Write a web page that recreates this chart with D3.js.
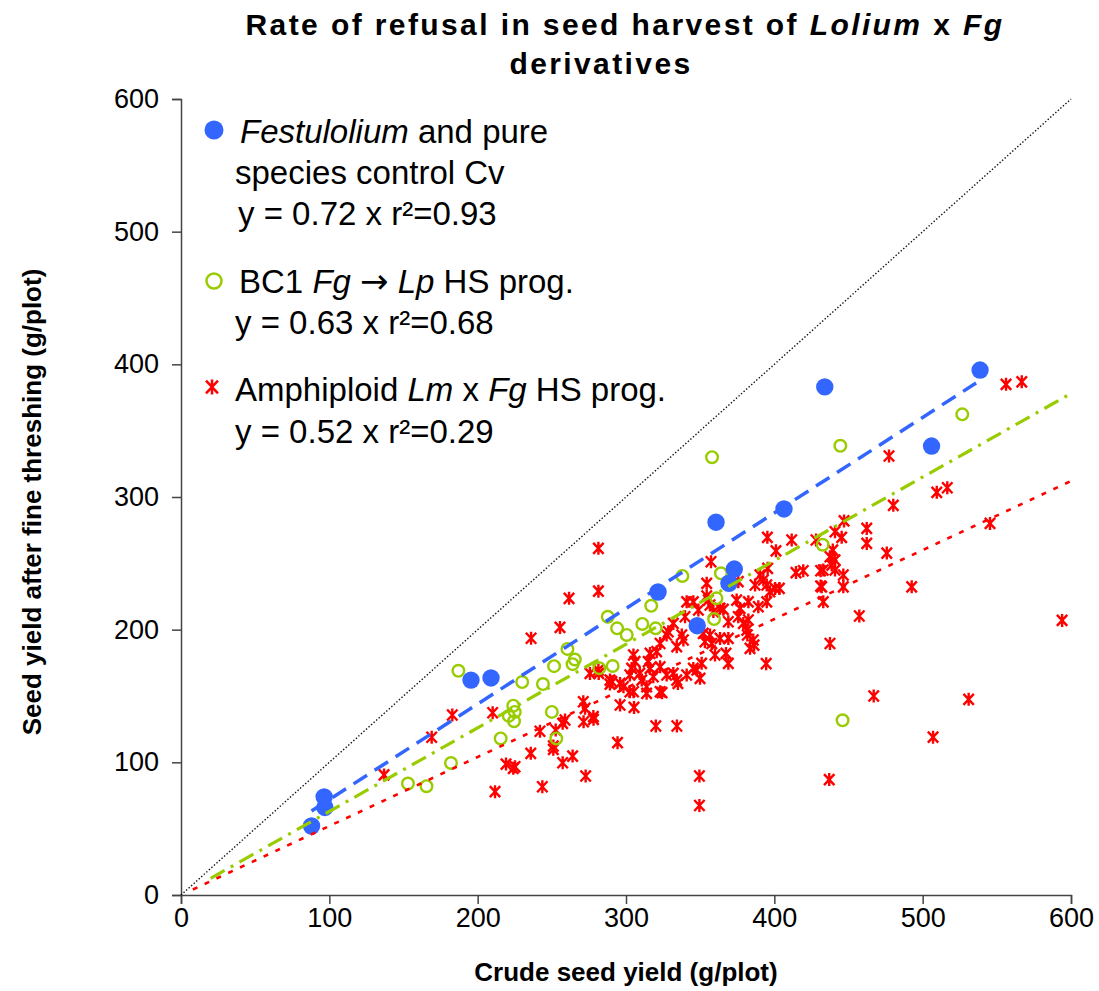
<!DOCTYPE html>
<html>
<head>
<meta charset="utf-8">
<script src="https://cdn.jsdelivr.net/npm/d3@7"></script>
<style>
body { margin:0; background:#fff; }
text { font-family: "Liberation Sans", Arial, sans-serif; }
</style>
</head>
<body>
<svg id="chart" width="1099" height="991"></svg>
<script>
// data: [crude yield, yield after threshing]
var festulolium = [[88,52],[96.5,74],[97,66],[195.5,162],[209,163.6],[321.6,228.4],[348,203],
  [360.7,281],[369.4,235],[373,245.7],[406.5,291],[434,383],[506,338.4],[538.7,395.7]];

var bc1 = [[97,66],[153,84],[165.5,82],[182,99.5],[187,169],[215.5,118],[221,135],[224,142.7],
  [225,138],[224.5,131],[230,160.5],[244,159],[250,138],[251.5,172.5],[253,118],[260.5,185.5],
  [265.5,177.5],[264,174],[282,171],[291,172.6],[287.7,209.7],[294,201],[300.5,196],[311,204.3],
  [317,218],[320,201],[338,240.5],[358,330],[359.4,208],[361,223.6],[364,242.5],[432.6,264],
  [444.5,338.6],[446,131.7],[526.7,362.3]];

var amphiploid = [[594,207],[531,147.5],[507,119],[467,150],[457.3,210.3],[492.6,232.3],[437,87],
  [437.5,189.6],[349.5,89.7],[349.5,67.5],[556.2,384.9],[566.8,386.8],[477.3,330.9],[509.5,303.5],
  [516.6,307],[480.2,293.7],[545.4,280.1],[475.8,257.7],[462.3,276.3],[462.3,265],[447,282],
  [445.4,269.6],[440.9,273.8],[439.4,260],[437.5,255],[440.9,252.5],[438.7,248.7],[440.9,245],
  [433,245],[446.5,241.2],[431.9,232.3],[446.5,232.3],[433,221],[395.3,269.6],[411.7,267.6],
  [401.1,259.4],[428.1,267.6],[357.3,251.2],[395.5,246.2],[390.3,241.2],[392.6,237.4],[387,233.7],
  [394.9,233.7],[400.5,231.1],[403.4,231.1],[397,228.6],[414.6,243],[419.5,244.4],[431.2,244.4],
  [431.2,232.9],[354.4,234.9],[375.7,236.2],[354.4,225.4],[355.5,222.3],[345.4,221],[348.8,214.8],
  [356.6,218.6],[363.4,216.1],[358.9,213.6],[365.6,215.3],[374.6,222.3],[382.5,221],[389.2,217.3],
  [394.9,221],[376.9,216],[375.7,209.7],[382.5,207.3],[379.1,204.7],[369,206],[381.4,199.7],
  [381.8,196],[385.8,192.2],[386.3,188.4],[383.6,185.9],[369,193.4],[363.4,193.4],[352.1,197.2],
  [356.6,196],[353.2,190.9],[357.8,189.6],[360,180.9],[367.4,182.1],[369,174.6],[351,174.6],
  [345.4,170.8],[347.7,169.6],[349.9,163.3],[394.5,174.4],[335,159.5],[324.3,152.5],[340.9,221],
  [339.8,209.7],[331.9,204.7],[328.5,198.4],[337.6,196],[338.7,192.2],[334.2,187.2],[323,189.6],
  [320.7,183.4],[316.2,182.1],[305,180.9],[306.1,175.9],[315,175.9],[316.2,170.8],[323,172],
  [303.8,170.8],[302.6,165.8],[309.3,167],[310.6,162],[318.4,164.5],[313.9,157],[323,153.2],
  [296,159.5],[298.3,157],[289.2,162],[289.2,159],[302.6,153.2],[327.4,165.8],[331.9,167],
  [334.2,162],[340.9,165.8],[275.7,167],[281.4,169.6],[271.2,145.7],[272.4,140.7],[296,143.2],
  [305.4,141.4],[278,134.5],[327.4,196],[281.4,261.3],[281.4,229],[261.6,223.6],[255.5,201.7],
  [236,193.5],[182.9,135.7],[210.1,137.4],[169,118.9],[136.9,90.5],[242,123.4],[252.6,124.4],
  [258.9,131.9],[257.3,129.4],[251,112.3],[251,109.8],[235.8,106.8],[257.3,99.7],[219.1,98.7],
  [224,95.5],[225.2,96.7],[243.6,81.6],[211.7,77.9],[320.1,127.4],[334.3,127.4],[294.3,114.8],
  [272.8,89.7],[264,104.7],[271.4,130.6],[278.1,132.4],[290.4,160.8],[305.1,153.2],[313.9,152],
  [281.6,167]];

// fitted lines y = k x and the x range they were drawn over
var trendSlopes = [0.72, 0.63, 0.52];
var trendFrom = [88, 20, 8];
var trendTo = [536, 600, 600];

var xTicks = [0,100,200,300,400,500,600];
var yTicks = [0,100,200,300,400,500,600];

var blue = "#3366ff", green = "#99cc00", red = "#ff0000";

var svg = d3.select("#chart");
var x = d3.scaleLinear().domain([0,600]).range([181,1071]);
var y = d3.scaleLinear().domain([0,600]).range([895,99]);

// title
var title = svg.append("text")
  .attr("x", 625).attr("y", 35)
  .attr("text-anchor","middle")
  .attr("font-size",30).attr("font-weight","bold")
  .attr("letter-spacing","2.4px");
title.append("tspan").text("Rate of refusal in seed harvest of ");
title.append("tspan").attr("font-style","italic").text("Lolium");
title.append("tspan").text(" x ");
title.append("tspan").attr("font-style","italic").text("Fg");
svg.append("text")
  .attr("x", 601).attr("y", 74)
  .attr("text-anchor","middle")
  .attr("font-size",30).attr("font-weight","bold")
  .attr("letter-spacing","2.4px")
  .text("derivatives");

// axes
var xAxis = svg.append("g").attr("transform","translate(0,895)")
  .call(d3.axisBottom(x).tickValues(xTicks).tickSize(9).tickPadding(4).tickFormat(d3.format("d")));
var yAxis = svg.append("g").attr("transform","translate(181,0)")
  .call(d3.axisLeft(y).tickValues(yTicks).tickSize(9).tickPadding(13).tickFormat(d3.format("d")));
[xAxis, yAxis].forEach(function(a) {
  a.select(".domain").attr("stroke","#444").attr("stroke-width",1.5);
  a.selectAll(".tick line").attr("stroke","#444").attr("stroke-width",1.5);
  a.selectAll(".tick text").attr("font-size",27).attr("fill","#000")
    .attr("font-family","'Liberation Sans', Arial, sans-serif");
});

svg.append("text")
  .attr("x", 626).attr("y", 981)
  .attr("text-anchor","middle")
  .attr("font-size",26).attr("font-weight","bold")
  .text("Crude seed yield (g/plot)");
svg.append("text")
  .attr("transform","translate(41,502) rotate(-90)")
  .attr("text-anchor","middle")
  .attr("font-size",26).attr("font-weight","bold")
  .text("Seed yield after fine threshing (g/plot)");

// 1:1 line
svg.append("line")
  .attr("x1", x(0)).attr("y1", y(0)).attr("x2", x(600)).attr("y2", y(600))
  .attr("stroke","#111").attr("stroke-width",1.4).attr("stroke-dasharray","1.4,2");

// points
var star = "M-5.2,-5.5L5.2,5.5M-5.2,5.5L5.2,-5.5M0,-6.5V6.5";

svg.append("g").selectAll("path").data(amphiploid).enter().append("path")
  .attr("d", star)
  .attr("transform", function(d){ return "translate(" + x(d[0]) + "," + y(d[1]) + ")"; })
  .attr("stroke", red).attr("stroke-width",2.4).attr("fill","none");

svg.append("g").selectAll("circle").data(bc1).enter().append("circle")
  .attr("cx", function(d){ return x(d[0]); })
  .attr("cy", function(d){ return y(d[1]); })
  .attr("r", 5.8)
  .attr("fill","none").attr("stroke", green).attr("stroke-width",2.4);

svg.append("g").selectAll("circle").data(festulolium).enter().append("circle")
  .attr("cx", function(d){ return x(d[0]); })
  .attr("cy", function(d){ return y(d[1]); })
  .attr("r", 8.7)
  .attr("fill", blue);

// trend lines
var trendColors = [blue, green, red];
var trendDash = ["16,9", "16,7,3,7", "5,8"];
var trendWidth = [3.5, 3.2, 2.6];
trendSlopes.forEach(function(k, i) {
  svg.append("line")
    .attr("x1", x(trendFrom[i])).attr("y1", y(k*trendFrom[i]))
    .attr("x2", x(trendTo[i])).attr("y2", y(k*trendTo[i]))
    .attr("stroke", trendColors[i]).attr("stroke-width", trendWidth[i])
    .attr("stroke-dasharray", trendDash[i]);
});

// legend
var lg = svg.append("g").attr("font-size",33);
lg.append("circle").attr("cx",214).attr("cy",130).attr("r",9.5).attr("fill",blue);
var t1 = lg.append("text").attr("x",240).attr("y",143);
t1.append("tspan").attr("font-style","italic").text("Festulolium");
t1.append("tspan").text(" and pure");
lg.append("text").attr("x",235).attr("y",184).text("species control Cv");
lg.append("text").attr("x",238).attr("y",225).text("y = 0.72 x r\u00b2=0.93");

lg.append("circle").attr("cx",214).attr("cy",281).attr("r",7.5)
  .attr("fill","none").attr("stroke",green).attr("stroke-width",2.5);
var t2 = lg.append("text").attr("x",239).attr("y",293);
t2.append("tspan").text("BC1 ");
t2.append("tspan").attr("font-style","italic").text("Fg");
t2.append("tspan").text(" ");
t2.append("tspan").attr("font-family","'DejaVu Sans', sans-serif").attr("font-size",34).text("\u2192");
t2.append("tspan").text(" ");
t2.append("tspan").attr("font-style","italic").text("Lp");
t2.append("tspan").text(" HS prog.");
lg.append("text").attr("x",235).attr("y",334).text("y = 0.63 x r\u00b2=0.68");

lg.append("path").attr("d",star)
  .attr("transform","translate(212,387) scale(1.15)")
  .attr("stroke",red).attr("stroke-width",2.2).attr("fill","none");
var t3 = lg.append("text").attr("x",235).attr("y",401);
t3.append("tspan").text("Amphiploid ");
t3.append("tspan").attr("font-style","italic").text("Lm");
t3.append("tspan").text(" x ");
t3.append("tspan").attr("font-style","italic").text("Fg");
t3.append("tspan").text(" HS prog.");
lg.append("text").attr("x",235).attr("y",443).text("y = 0.52 x r\u00b2=0.29");
</script>
</body>
</html>
